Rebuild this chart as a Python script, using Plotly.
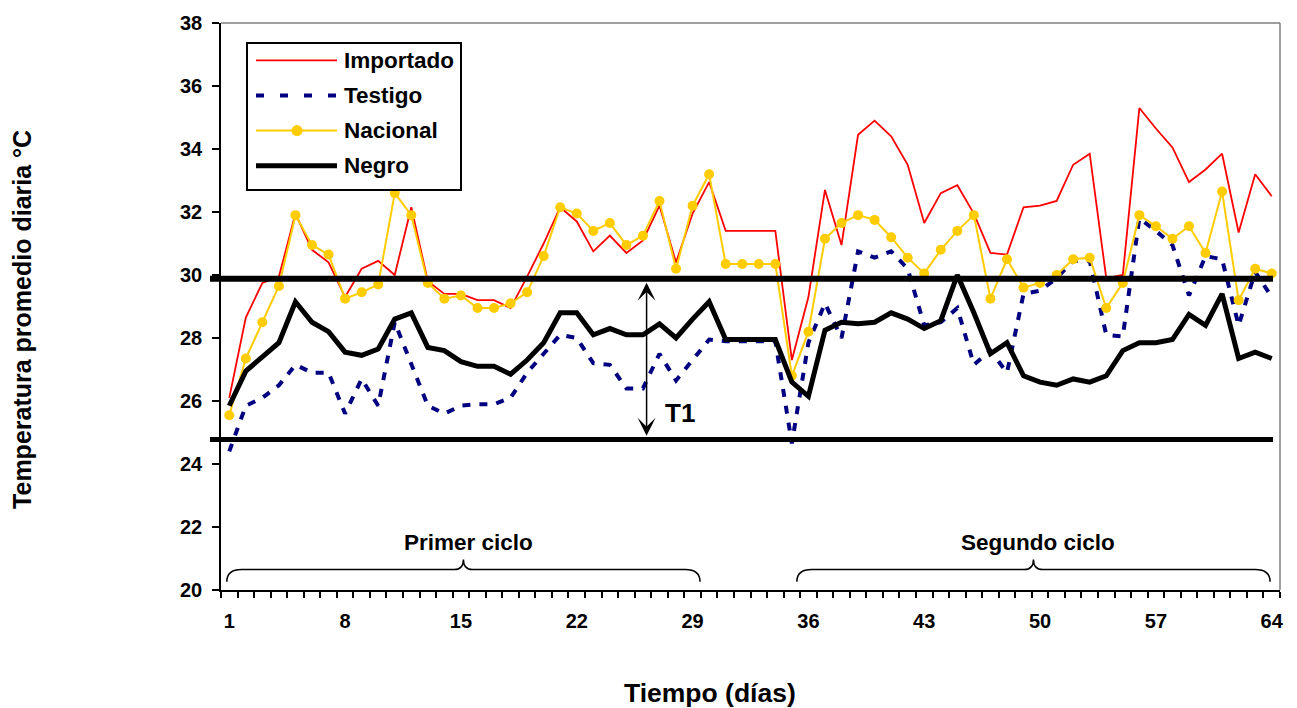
import plotly.graph_objects as go

# Daily mean temperature (°C) for the four treatments, days 1-64
dias = list(range(1, 65))

importado = [26.1, 28.65, 29.75, 29.95, 31.95, 30.8, 30.4, 29.3, 30.2, 30.45,
             30.0, 32.15, 29.8, 29.4, 29.4, 29.2, 29.2, 28.95, 29.95, 31.0,
             32.15, 31.7, 30.75, 31.25, 30.7, 31.1, 32.2, 30.4, 31.95, 32.95,
             31.4, 31.4, 31.4, 31.4, 27.3, 29.3, 32.7, 30.95, 34.45, 34.9,
             34.4, 33.5, 31.65, 32.6, 32.85, 31.95, 30.7, 30.65, 32.15, 32.2,
             32.35, 33.5, 33.85, 29.9, 30.0, 35.3, 34.65, 34.05, 32.95, 33.35,
             33.85, 31.35, 33.2, 32.5]

testigo = [24.4, 25.85, 26.1, 26.5, 27.15, 26.9, 26.9, 25.6, 26.7, 25.85,
           28.5, 27.2, 25.85, 25.6, 25.85, 25.9, 25.9, 26.1, 26.9, 27.5,
           28.1, 28.0, 27.2, 27.15, 26.4, 26.4, 27.5, 26.65, 27.3, 27.95,
           27.9, 27.9, 27.9, 27.9, 24.65, 27.85, 29.1, 28.0, 30.75, 30.55,
           30.75, 30.2, 28.4, 28.5, 28.95, 27.15, 27.6, 26.9, 29.4, 29.5,
           29.9, 30.45, 30.45, 28.1, 28.05, 31.8, 31.4, 30.95, 29.35, 30.6,
           30.5, 28.4, 30.1, 29.3]

nacional = [25.55, 27.35, 28.5, 29.65, 31.9, 30.95, 30.65, 29.25, 29.45, 29.7,
            32.6, 31.9, 29.75, 29.25, 29.35, 28.95, 28.95, 29.1, 29.45, 30.6,
            32.15, 31.95, 31.4, 31.65, 30.95, 31.25, 32.35, 30.2, 32.2, 33.2,
            30.35, 30.35, 30.35, 30.35, 26.8, 28.2, 31.15, 31.65, 31.9, 31.75,
            31.2, 30.55, 30.05, 30.8, 31.4, 31.9, 29.25, 30.5, 29.6, 29.75,
            30.0, 30.5, 30.55, 28.95, 29.75, 31.9, 31.55, 31.15, 31.55, 30.7,
            32.65, 29.2, 30.2, 30.05]

negro = [25.85, 26.95, 27.4, 27.85, 29.15, 28.5, 28.2, 27.55, 27.45, 27.65,
         28.6, 28.8, 27.7, 27.6, 27.25, 27.1, 27.1, 26.85, 27.3, 27.85,
         28.8, 28.8, 28.1, 28.3, 28.1, 28.1, 28.45, 28.0, 28.6, 29.15,
         27.95, 27.95, 27.95, 27.95, 26.6, 26.15, 28.25, 28.5, 28.45, 28.5,
         28.8, 28.6, 28.3, 28.55, 30.0, 28.8, 27.5, 27.85, 26.8, 26.6,
         26.5, 26.7, 26.6, 26.8, 27.6, 27.85, 27.85, 27.95, 28.75, 28.4,
         29.4, 27.35, 27.55, 27.35]

x_tick_vals = [1, 8, 15, 22, 29, 36, 43, 50, 57, 64]
y_tick_vals = [20, 22, 24, 26, 28, 30, 32, 34, 36, 38]

# Band limits (T1) and the two cycles
limite_superior = 29.88
limite_inferior = 24.78
ciclos = [("Primer ciclo", 0.85, 29.45), ("Segundo ciclo", 35.3, 63.9)]

series = [
    ("Importado", importado, dict(color="#FF0000", width=1.8), "lines"),
    ("Testigo", testigo, dict(color="#000080", width=4, dash="8px,9px"), "lines"),
    ("Nacional", nacional, dict(color="#FFCC00", width=2), "lines+markers"),
    ("Negro", negro, dict(color="#000000", width=5), "lines"),
]

FONT = "Liberation Sans"

# plot area in pixels
W_FIG, H_FIG = 1297, 708
L, R, T, B = 221, 1280, 20, 590


def px_x(px):
    return (px - L) / (R - L)


def px_y(py):
    return (B - py) / (B - T)


fig = go.Figure()
for nombre, valores, linea, modo in series:
    fig.add_trace(go.Scatter(
        x=dias, y=valores, mode=modo, name=nombre, line=linea,
        marker=dict(size=10, color="#FFCC00"), showlegend=False,
        hoverinfo="x+y+name",
    ))

shapes = []
annotations = []

# frame: grey top and right borders
shapes.append(dict(type="line", xref="paper", yref="paper", x0=0, x1=1, y0=1, y1=1,
                   line=dict(color="#808080", width=1.5), layer="above"))
shapes.append(dict(type="line", xref="paper", yref="paper", x0=1, x1=1, y0=0, y1=1,
                   line=dict(color="#808080", width=1.5), layer="above"))

# thick horizontal limits
for yv, w in [(limite_superior, 6), (limite_inferior, 5)]:
    shapes.append(dict(type="line", xref="paper", yref="y",
                       x0=px_x(210), x1=px_x(1273), y0=yv, y1=yv,
                       line=dict(color="black", width=w), layer="above"))


def llave(xa, xb, yb=20.26, yh=20.65, yp=20.97, r_end=0.9, r_mid=0.55):
    xm = (xa + xb) / 2
    return (f"M {xa},{yb} Q {xa},{yh} {xa + r_end},{yh} L {xm - r_mid},{yh} "
            f"Q {xm},{yh} {xm},{yp} Q {xm},{yh} {xm + r_mid},{yh} "
            f"L {xb - r_end},{yh} Q {xb},{yh} {xb},{yb}")


for texto, xa, xb in ciclos:
    shapes.append(dict(type="path", xref="x", yref="y", path=llave(xa, xb),
                       line=dict(color="black", width=1.5)))
    annotations.append(dict(x=(xa + xb) / 2 + 0.3, y=21.5, xref="x", yref="y",
                            text=texto, showarrow=False,
                            font=dict(family=FONT, size=22.5, color="black", weight="bold")))

# double arrow marking T1
x_flecha = 26.22
annotations.append(dict(x=x_flecha, y=limite_inferior + 0.12, ax=x_flecha, ay=limite_superior - 0.08,
                        xref="x", yref="y", axref="x", ayref="y", text="",
                        showarrow=True, arrowside="end+start",
                        arrowhead=3, startarrowhead=3, arrowsize=2, startarrowsize=2,
                        arrowwidth=1.5, arrowcolor="black", standoff=0, startstandoff=0))
annotations.append(dict(x=28.25, y=25.62, xref="x", yref="y", text="T1", showarrow=False,
                        font=dict(family=FONT, size=26, color="black", weight="bold")))

# axis titles
annotations.append(dict(x=px_x(22.5), y=px_y(318), xref="paper", yref="paper",
                        text="Temperatura promedio diaria °C", textangle=-90,
                        showarrow=False, xanchor="center", yanchor="middle",
                        font=dict(family=FONT, size=25, color="black", weight="bold")))
annotations.append(dict(x=px_x(710), y=px_y(694), xref="paper", yref="paper",
                        text="Tiempo (días)", showarrow=False,
                        xanchor="center", yanchor="middle",
                        font=dict(family=FONT, size=26.5, color="black", weight="bold")))

# legend box
leg_l, leg_r, leg_t, leg_b = 247, 461, 40, 188
shapes.append(dict(type="rect", xref="paper", yref="paper",
                   x0=px_x(leg_l), x1=px_x(leg_r), y0=px_y(leg_b), y1=px_y(leg_t),
                   line=dict(color="black", width=2), fillcolor="white", layer="above"))
fila0, paso = 57.5, 35.3
for i, (nombre, _, linea, modo) in enumerate(series):
    yy = px_y(fila0 + i * paso)
    estilo = dict(linea)
    if nombre == "Testigo":
        estilo["dash"] = "8px,16px"
    shapes.append(dict(type="line", xref="paper", yref="paper",
                       x0=px_x(256), x1=px_x(337), y0=yy, y1=yy,
                       line=estilo, layer="above"))
    if "markers" in modo:
        rad = 5.5
        shapes.append(dict(type="circle", xref="paper", yref="paper",
                           x0=px_x(297 - rad), x1=px_x(297 + rad),
                           y0=px_y(fila0 + i * paso + rad), y1=px_y(fila0 + i * paso - rad),
                           line=dict(color="#FFCC00", width=0), fillcolor="#FFCC00",
                           layer="above"))
    annotations.append(dict(x=px_x(342), y=yy, xref="paper", yref="paper",
                            text=nombre, showarrow=False, xanchor="left", yanchor="middle",
                            font=dict(family=FONT, size=22.5, color="black", weight="bold")))

fig.update_layout(
    width=W_FIG, height=H_FIG, autosize=False,
    margin=dict(l=L, r=W_FIG - R, t=T, b=H_FIG - B, pad=0),
    paper_bgcolor="white", plot_bgcolor="white",
    showlegend=False,
    shapes=shapes, annotations=annotations,
    xaxis=dict(
        range=[0.5, 64.5], tickmode="array", tickvals=x_tick_vals,
        ticktext=[str(v) for v in x_tick_vals], ticks="",
        showline=True, linecolor="black", linewidth=1.5,
        showgrid=False, zeroline=False, ticklabelstandoff=12,
        tickfont=dict(family=FONT, size=20, color="black", weight="bold"),
        minor=dict(tickmode="array", tickvals=[k + 0.5 for k in range(65)],
                   ticks="outside", ticklen=6, tickwidth=1.5, tickcolor="black",
                   showgrid=False),
    ),
    yaxis=dict(
        range=[20, 38], tickmode="array", tickvals=y_tick_vals,
        ticks="outside", ticklen=7, tickwidth=1.5, tickcolor="black",
        showline=True, linecolor="black", linewidth=1.5,
        showgrid=False, zeroline=False, ticklabelstandoff=6,
        tickfont=dict(family=FONT, size=20, color="black", weight="bold"),
    ),
)

fig.write_html("out.html")
